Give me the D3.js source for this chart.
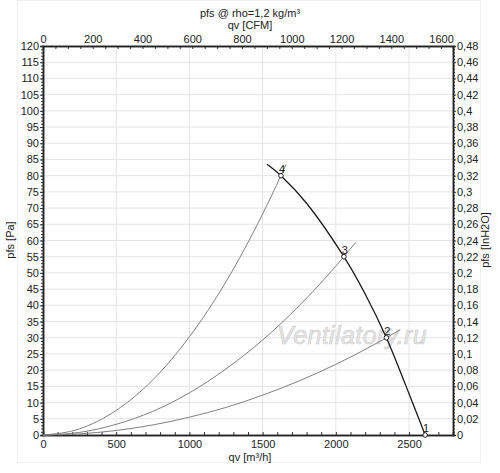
<!DOCTYPE html>
<html>
<head>
<meta charset="utf-8">
<script src="https://cdn.jsdelivr.net/npm/d3@7"></script>
<style>
  body { margin: 0; background: #fff; }
  svg text { font-family: "Liberation Sans", Arial, sans-serif; fill: #222; }
</style>
</head>
<body>
<div id="canvas"></div>
<script>

// fan curve, qv [m3/h] vs pfs [Pa]
var fanQ = [1530, 1625, 1800, 2055, 2200, 2345, 2480, 2610];
var fanP = [83.5, 80, 71.5, 55, 43.5, 30, 15, 0];

// system curves
var sysQ = [0, 250, 500, 750, 1000, 1250, 1500, 1750, 2000, 2250];
var sys2P = [0, 0.35, 1.4, 3.1, 5.5, 8.5, 12.3, 16.7, 21.8, 27.6];
var sys3P = [0, 0.8, 3.3, 7.3, 13, 20.4, 29.3, 39.9, 52.1];
var sys4P = [0, 1.9, 7.6, 17, 30.3, 47.3, 68.2];
// last two points of each system curve: operating point, then line end
var sys2End = [[2345, 30], [2440, 32.5]];
var sys3End = [[2055, 55], [2135, 59.4]];
var sys4End = [[1625, 80], [1660, 83.5]];

// operating points
var ptQ = [2610, 2345, 2055, 1625];
var ptP = [0, 30, 55, 80];
var ptLabel = ["1", "2", "3", "4"];

var pTicks = d3.range(0, 121, 5);
var inTicks = d3.range(0, 0.481, 0.02);
var qTicks = [0, 500, 1000, 1500, 2000, 2500];
var cfmTicks = [0, 200, 400, 600, 800, 1000, 1200, 1400, 1600];

var width = 500, height = 473;
var mLeft = 43, mRight = 453, mTop = 46, mBottom = 435;

var svgContainer = d3.select("#canvas").append("svg")
    .attr("width", width)
    .attr("height", height);

var x = d3.scaleLinear().domain([0, 2800]).range([mLeft, mRight]);
var xCfm = d3.scaleLinear().domain([0, 2800 * 0.5886]).range([mLeft, mRight]);
var y = d3.scaleLinear().domain([0, 120]).range([mBottom, mTop]);
var yIn = d3.scaleLinear().domain([0, 0.48]).range([mBottom, mTop]);

function comma(v){
	return String(+v.toFixed(2)).replace(".", ",");
}

// faint outer frame
svgContainer.append("rect")
	.attr("x", 17.5).attr("y", 0.5)
	.attr("width", 463).attr("height", 462)
	.attr("fill", "none").attr("stroke", "#f0f0f0");

// grid
svgContainer.append("g").selectAll("line").data(pTicks.slice(1)).join("line")
	.attr("x1", mLeft).attr("x2", mRight)
	.attr("y1", d => y(d)).attr("y2", d => y(d))
	.attr("stroke", "#e4e4e4");
svgContainer.append("g").selectAll("line").data(qTicks.slice(1)).join("line")
	.attr("x1", d => x(d)).attr("x2", d => x(d))
	.attr("y1", mTop).attr("y2", mBottom)
	.attr("stroke", "#e4e4e4");

// watermark
svgContainer.append("text")
	.attr("x", 277).attr("y", 344)
	.attr("font-size", 25)
	.attr("font-style", "italic")
	.attr("letter-spacing", 0.4)
	.style("fill", "#e6e6e6")
	.attr("stroke", "#cccccc")
	.attr("stroke-width", 0.6)
	.text("Ventilatory.ru");

// axes
function styleAxis(g){
	g.selectAll("path").attr("stroke", "#222").attr("stroke-width", 1.5);
	g.selectAll("line").attr("stroke", "#333");
	g.selectAll("text").attr("font-size", 11).style("fill", "#222")
		.attr("font-family", "Liberation Sans, Arial, sans-serif");
}

// minor ticks
svgContainer.append("g").attr("transform", "translate(" + mLeft + ",0)")
	.call(d3.axisLeft(y).tickValues(d3.range(0, 121, 1)).tickSize(2).tickFormat(""))
	.call(styleAxis);
svgContainer.append("g").attr("transform", "translate(" + mRight + ",0)")
	.call(d3.axisRight(yIn).tickValues(d3.range(0, 0.481, 0.004)).tickSize(2).tickFormat(""))
	.call(styleAxis);
svgContainer.append("g").attr("transform", "translate(0," + mBottom + ")")
	.call(d3.axisTop(x).tickValues(d3.range(0, 2801, 100)).tickSize(3).tickFormat(""))
	.call(styleAxis);
svgContainer.append("g").attr("transform", "translate(0," + mTop + ")")
	.call(d3.axisBottom(xCfm).tickValues(d3.range(0, 1648, 50)).tickSize(3).tickFormat(""))
	.call(styleAxis);

// major ticks
svgContainer.append("g").attr("transform", "translate(" + mLeft + ",0)")
	.call(d3.axisLeft(y).tickValues(pTicks).tickSize(3).tickPadding(1))
	.call(styleAxis);
svgContainer.append("g").attr("transform", "translate(" + mRight + ",0)")
	.call(d3.axisRight(yIn).tickValues(inTicks).tickSize(3).tickPadding(1).tickFormat(comma))
	.call(styleAxis);
svgContainer.append("g").attr("transform", "translate(0," + mBottom + ")")
	.call(d3.axisBottom(x).tickValues(qTicks).tickSize(0).tickPadding(5).tickFormat(d3.format("d")))
	.call(styleAxis);
svgContainer.append("g").attr("transform", "translate(0," + mTop + ")")
	.call(d3.axisTop(xCfm).tickValues(cfmTicks).tickSize(0).tickPadding(3).tickFormat(d3.format("d")))
	.call(styleAxis);

svgContainer.selectAll(".domain").attr("stroke", "#222").attr("stroke-width", 1.5);

// titles
svgContainer.append("text").attr("x", 250).attr("y", 17).attr("text-anchor", "middle")
	.attr("font-size", 11).text("pfs @ rho=1,2 kg/m³");
svgContainer.append("text").attr("x", 250).attr("y", 29).attr("text-anchor", "middle")
	.attr("font-size", 11).text("qv [CFM]");
svgContainer.append("text").attr("x", 250).attr("y", 461).attr("text-anchor", "middle")
	.attr("font-size", 11).text("qv [m³/h]");
svgContainer.append("text").attr("transform", "translate(14,240) rotate(-90)")
	.attr("text-anchor", "middle").attr("font-size", 11).text("pfs [Pa]");
svgContainer.append("text").attr("transform", "translate(489,240) rotate(-90)")
	.attr("text-anchor", "middle").attr("font-size", 11).text("pfs [InH2O]");

// curves
var line = d3.line().x(d => x(d[0])).y(d => y(d[1])).curve(d3.curveMonotoneX);

[[sys2P, sys2End], [sys3P, sys3End], [sys4P, sys4End]].forEach(function(s){
	var pts = s[0].map((p, j) => [sysQ[j], p]).concat(s[1]);
	svgContainer.append("path").attr("d", line(pts))
		.attr("fill", "none").attr("stroke", "#808080").attr("stroke-width", 1);
});

var fanPts = fanQ.map((q, i) => [q, fanP[i]]);
svgContainer.append("path")
	.attr("d", d3.line().x(d => x(d[0])).y(d => y(d[1])).curve(d3.curveCatmullRom)(fanPts))
	.attr("fill", "none").attr("stroke", "#1a1a1a").attr("stroke-width", 1.3);

// operating points
ptQ.forEach(function(q, i){
	svgContainer.append("circle")
		.attr("cx", x(q)).attr("cy", y(ptP[i])).attr("r", 2.3)
		.attr("fill", "#fff").attr("stroke", "#222").attr("stroke-width", 1);
	svgContainer.append("text")
		.attr("x", x(q) + 1).attr("y", y(ptP[i]) - 3)
		.attr("text-anchor", "middle").attr("font-size", 11)
		.text(ptLabel[i]);
});

</script>
</body>
</html>
